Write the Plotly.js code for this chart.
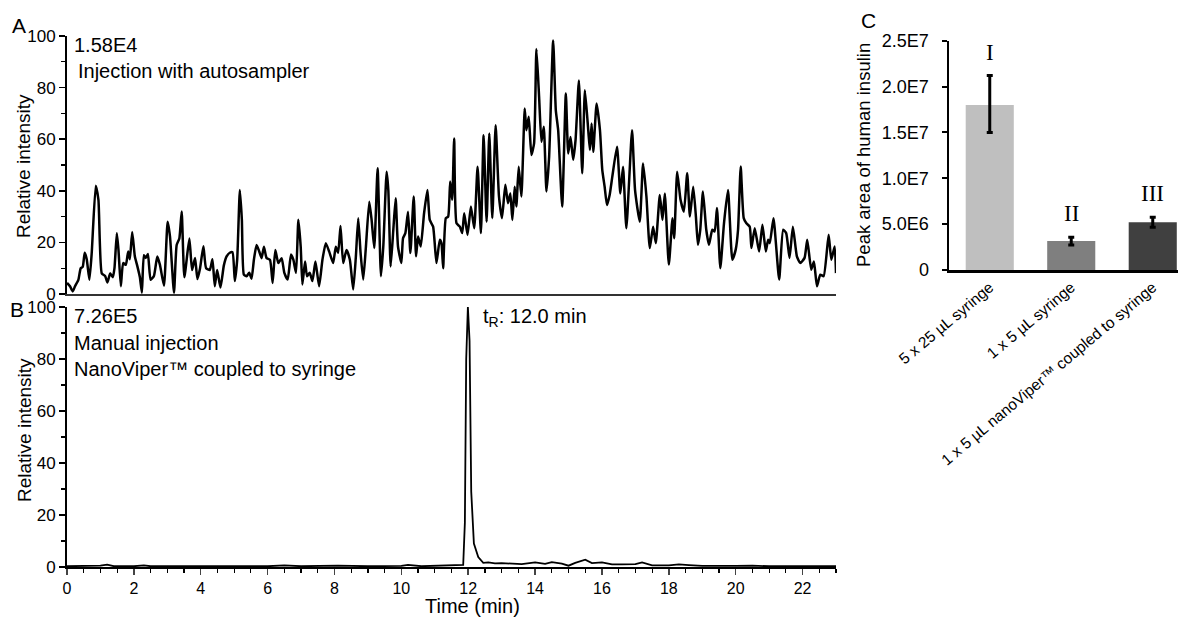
<!DOCTYPE html>
<html>
<head>
<meta charset="utf-8">
<script src="https://cdn.plot.ly/plotly-3.0.1.min.js"></script>
<style>html,body{margin:0;padding:0;background:#fff;}#chart{width:1178px;height:617px;}</style>
</head>
<body>
<div id="chart"></div>
<script>
// ---------- Panel A: injection with autosampler ----------
const timeA = [0,0.09,0.17,0.24,0.34,0.41,0.47,0.53,0.59,0.67,0.74,0.86,0.94,1.04,1.14,1.21,1.29,1.37,1.42,1.49,1.54,1.61,1.68,1.76,1.83,1.88,1.95,2.03,2.10,2.18,2.24,2.30,2.36,2.42,2.50,2.60,2.70,2.78,2.90,3.01,3.08,3.20,3.28,3.36,3.43,3.51,3.66,3.74,3.83,3.90,3.98,4.08,4.16,4.27,4.35,4.42,4.49,4.59,4.69,4.77,
4.87,4.95,5.02,5.09,5.17,5.23,5.29,5.37,5.45,5.52,5.59,5.67,5.75,5.82,5.89,5.97,6.07,6.15,6.23,6.32,6.42,6.50,6.60,6.70,6.77,6.85,6.92,6.99,7.04,7.12,7.18,7.26,7.34,7.43,7.54,7.64,7.74,7.84,7.96,8.04,8.11,8.18,8.26,8.36,8.46,8.56,8.64,8.71,8.78,8.86,8.94,9.04,9.11,9.19,9.29,
9.39,9.46,9.56,9.61,9.68,9.76,9.83,9.90,10.00,10.05,10.12,10.20,10.27,10.37,10.44,10.50,10.58,10.68,10.78,10.85,10.95,11.05,11.15,11.20,11.25,11.33,11.40,11.46,11.52,11.58,11.65,11.75,11.82,11.88,11.98,12.08,12.18,12.28,12.38,12.46,12.55,12.63,12.72,12.82,12.92,13.01,13.11,13.19,13.26,13.32,13.39,13.44,13.51,13.59,13.69,13.74,13.81,13.89,13.97,14.04,
14.12,14.19,14.26,14.34,14.42,14.54,14.62,14.69,14.81,14.92,14.99,15.06,15.14,15.21,15.31,15.41,15.49,15.59,15.64,15.69,15.74,15.84,15.94,16.01,16.08,16.15,16.23,16.31,16.45,16.55,16.63,16.73,16.90,16.99,17.13,17.23,17.33,17.43,17.53,17.61,17.73,17.81,17.88,18.00,18.11,18.16,18.25,18.35,18.45,18.55,
18.63,18.73,18.81,18.87,18.94,19.02,19.12,19.20,19.30,19.37,19.44,19.54,19.65,19.77,19.90,20.00,20.07,20.15,20.24,20.32,20.42,20.47,20.57,20.70,20.80,20.90,20.97,21.02,21.13,21.30,21.42,21.51,21.61,21.71,21.83,21.93,22.06,22.14,22.26,22.34,22.43,22.53,22.63,22.78,22.86,22.96,23.0];
const intensityA = [4.3,3,1,3,5.5,10,10.5,16,13.5,5.5,16,42,36.5,8,7,4.5,8,6.5,10,23.5,17,3,12,11.3,16.5,13.5,24,14.5,11,6.5,0.5,15,14,15.5,5.5,7,14.5,11.3,3.2,28,22.3,0.5,19,21.5,32,6.5,21.5,9.3,14,5.8,10,18.5,10,9.3,13.5,3,9.3,2.5,11,14.5,
16,16.2,5,13.3,40.3,28.8,7.5,6.9,8.2,5.9,13.3,19,16.5,13.9,18.3,13.9,13.3,4.3,17.1,12,13.9,8.2,5.6,15.3,13.3,8.2,28.8,18.3,3.7,12.6,6.9,8.2,5,12.6,3,13.3,19.7,16.5,12,18.3,16,26.4,12,17.1,13.3,1.7,14.6,29.4,16,5.6,18.3,35.8,28.8,17.8,48.7,
6.9,18.4,47.4,40.3,10.7,24.9,37.1,18.4,12,21.6,23.6,31.9,15.9,37.8,14.6,22.3,18.4,31.3,40.3,28.7,26.1,12,21,19.7,10,29.4,30,43.6,36.5,60.3,27.4,26.1,23.6,31.3,22.9,33.9,25.5,49.3,23.6,61.5,28,62.2,29.4,65.4,37.8,29.4,42.3,35.2,39,28.7,41.6,33.9,49.3,37.8,71.9,63.5,68.7,53.9,58.4,95,
76.4,59,64.8,39.7,53.2,98.3,71.2,63.5,33.9,77.7,54.5,60.9,52,59.6,82.8,46.8,79,63.5,55.8,66.1,55.1,73.8,63.5,48,41.6,34.5,38.4,45.5,57.1,39,49.3,25.5,63.5,40.3,28,50.6,37.8,17.8,26.1,19.7,38.4,28.7,39,11.4,29.4,21.6,47.4,36.5,31.9,46.8,
30,41.6,30,19.1,24.9,39.7,24.9,19.1,24.9,24.2,33.3,10,27.4,40.3,13.3,17.2,24.9,49.4,29.4,27.4,26.1,17.8,25.5,16.5,26.8,16.5,21,19.7,29.4,5.6,24.9,23.6,14,26.1,14.6,12,14,21,9.4,12.6,3,7.5,6.9,23,13.3,18.4,8.1];

// ---------- Panel B: manual injection, NanoViper coupled to syringe ----------
const timeB = [0,0.5,1.0,1.2,1.4,2.0,2.3,2.5,3.0,4.0,5.0,6.0,6.5,7.0,8.1,9.0,10.0,10.2,10.6,11.0,11.5,11.85,11.90,11.94,11.99,12.04,12.09,12.17,12.30,12.45,12.6,12.8,13.0,13.3,13.6,14.0,14.3,14.5,14.8,15.0,15.2,15.5,15.7,16.0,16.3,16.6,17.0,17.2,17.5,18.0,18.3,18.6,19.0,20.0,20.5,21.0,22.0,23.0];
const intensityB = [0.3,0.4,0.5,0.9,0.3,0.3,0.6,0.3,0.3,0.3,0.3,0.3,0.6,0.3,0.5,0.3,0.4,0.8,0.3,0.4,0.6,0.8,17,80,100,87,29,9,3.8,1.6,1.8,1.4,1.5,1.2,1.1,1.8,1.2,1.9,1.3,0.5,1.6,2.8,1.5,1.8,1.0,1.0,1.1,1.8,0.6,0.6,1.0,0.7,0.4,0.4,0.5,0.3,0.3,0.3];

// ---------- Panel C: peak area of human insulin ----------
const categoriesC = ['5 x 25 µL syringe', '1 x 5 µL syringe', '1 x 5 µL nanoViper™ coupled to syringe'];
const peakAreaC = [1.8e7, 3.16e6, 5.2e6];
const errorPlusC = [3.2e6, 0.4e6, 0.55e6];
const errorMinusC = [3.0e6, 0.43e6, 0.55e6];
const romanLabelsC = ['I', 'II', 'III'];
const barColorsC = ['#bfbfbf', '#7f7f7f', '#404040'];
const tickValsC = [0, 5e6, 1e7, 1.5e7, 2e7, 2.5e7];
const tickTextC = ['0', '5.0E6', '1.0E7', '1.5E7', '2.0E7', '2.5E7'];

const W = 1178, H = 617;
const fx = p => p / W;
const fy = p => 1 - p / H;
const SANS = 'Liberation Sans, Arial, sans-serif';

const traces = [
  {x: timeA, y: intensityA, type: 'scatter', mode: 'lines', xaxis: 'x', yaxis: 'y',
   line: {color: '#000', width: 2.5, shape: 'spline', smoothing: 0.5}, hoverinfo: 'skip'},
  {x: timeB, y: intensityB, type: 'scatter', mode: 'lines', xaxis: 'x2', yaxis: 'y2',
   line: {color: '#000', width: 1.8}, hoverinfo: 'skip'},
  {x: categoriesC, y: peakAreaC, type: 'bar', xaxis: 'x3', yaxis: 'y3', width: 0.59,
   marker: {color: barColorsC},
   error_y: {type: 'data', symmetric: false, array: errorPlusC, arrayminus: errorMinusC,
             color: '#000', thickness: 3, width: 3}}
];

const yAxisCommon = {
  range: [0, 100], dtick: 20, ticks: 'outside', ticklen: 6, tickwidth: 1.5, tickcolor: '#000',
  minor: {dtick: 10, ticks: 'outside', ticklen: 4, tickwidth: 1.2, tickcolor: '#000'},
  showline: true, linecolor: '#000', linewidth: 2, showgrid: false, zeroline: false,
  tickfont: {size: 17, family: SANS}, fixedrange: true
};

const ann = (text, x, y, size, opts) => Object.assign({text: text, x: fx(x), y: fy(y), xref: 'paper', yref: 'paper',
  showarrow: false, font: {size: size}, xanchor: 'left', yanchor: 'middle'}, opts || {});

const annotations = [
  ann('A', 19, 25, 21, {xanchor: 'center'}),
  ann('B', 17, 309, 21, {xanchor: 'center'}),
  ann('C', 868, 20, 21, {xanchor: 'center'}),
  ann('1.58E4', 72, 45, 20),
  ann('Injection with autosampler', 76, 71, 20),
  ann('7.26E5', 72, 316, 20),
  ann('Manual injection', 72, 343, 20),
  ann('NanoViper™ coupled to syringe', 72, 369, 20),
  ann('t<sub>R</sub>: 12.0 min', 481, 318, 20),
  // axis titles placed as text at the reference positions
  ann('Relative intensity', 24, 166, 19, {xanchor: 'center', textangle: -90}),
  ann('Relative intensity', 24, 430, 19, {xanchor: 'center', textangle: -90}),
  ann('Time (min)', 472, 606, 20, {xanchor: 'center'}),
  ann('Peak area of human insulin', 864, 155, 18.5, {xanchor: 'center', textangle: -90})
];
romanLabelsC.forEach((lab, i) => {
  annotations.push({text: lab, x: categoriesC[i], y: peakAreaC[i] + errorPlusC[i],
    xref: 'x3', yref: 'y3', showarrow: false, xanchor: 'center', yanchor: 'bottom', yshift: 9,
    font: {family: 'Liberation Serif, Times New Roman, serif', size: 23}});
});

const layout = {
  width: W, height: H, margin: {l: 0, r: 0, t: 0, b: 0},
  paper_bgcolor: '#fff', plot_bgcolor: '#fff', showlegend: false,
  font: {family: SANS, color: '#000', size: 16},
  xaxis: {domain: [fx(67), fx(836)], anchor: 'y', range: [0, 23], showline: true, linecolor: '#333', linewidth: 2,
          ticks: '', showticklabels: false, showgrid: false, zeroline: false, fixedrange: true},
  yaxis: Object.assign({}, yAxisCommon, {domain: [fy(294), fy(36)], anchor: 'x'}),
  xaxis2: {domain: [fx(67), fx(836)], anchor: 'y2', range: [0, 23], dtick: 2, ticks: 'outside', ticklen: 6, tickwidth: 1.5,
           minor: {dtick: 0.5, ticks: 'outside', ticklen: 4, tickwidth: 1.2, tickcolor: '#000'},
           showline: true, linecolor: '#000', linewidth: 2, showgrid: false, zeroline: false,
           tickfont: {size: 16}, fixedrange: true},
  yaxis2: Object.assign({}, yAxisCommon, {domain: [fy(567), fy(307)], anchor: 'x2'}),
  xaxis3: {domain: [fx(949), 1], anchor: 'y3', type: 'category', range: [-0.5, 2.31], tickangle: -40,
           showline: true, linecolor: '#000', linewidth: 2.5, ticks: '', showgrid: false, zeroline: false,
           tickfont: {size: 15.5}, fixedrange: true},
  yaxis3: {domain: [fy(270), fy(40.7)], anchor: 'x3', range: [0, 2.5e7], tickvals: tickValsC, ticktext: tickTextC,
           ticks: 'outside', ticklen: 5, tickwidth: 2, tickcolor: '#000', showline: true, linecolor: '#000', linewidth: 2.5,
           ticklabelstandoff: 9,
           showgrid: false, zeroline: false, tickfont: {size: 18}, fixedrange: true},
  annotations: annotations
};

Plotly.newPlot('chart', traces, layout, {staticPlot: true, displayModeBar: false});
</script>
</body>
</html>
